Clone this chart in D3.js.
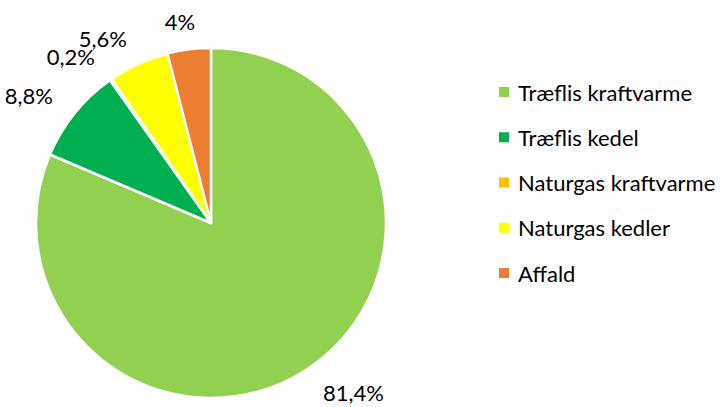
<!DOCTYPE html>
<html><head><meta charset="utf-8">
<script src="https://cdn.jsdelivr.net/npm/d3@7"></script>
<style>html,body{margin:0;padding:0;background:#fff;}svg{display:block;font-family:Lato,"Open Sans",sans-serif;}</style>
</head><body>
<svg id="chart" width="723" height="407"></svg>
<script>
const categories = ["Træflis kraftvarme", "Træflis kedel", "Naturgas kraftvarme", "Naturgas kedler", "Affald"];
const values = [81.4, 8.8, 0.2, 5.6, 4];
const labels = ["81,4%", "8,8%", "0,2%", "5,6%", "4%"];
const colors = ["#92D050", "#00B050", "#FFC000", "#FFFF00", "#ED7D31"];

const svg = d3.select("#chart");
const cx = 211, cy = 223, r = 175;
const data = categories.map((c, i) => ({name: c, value: values[i], label: labels[i], color: colors[i]}));

const pie = d3.pie().value(d => d.value).sort(null);
const arcs = pie(data);
const arc = d3.arc().innerRadius(0).outerRadius(r);
const labelRx = 203, labelRy = 195;

const g = svg.append("g").attr("transform", `translate(${cx},${cy})`);
g.selectAll("path").data(arcs).join("path")
  .attr("d", arc)
  .attr("fill", d => d.data.color)
  .attr("stroke", "#fff")
  .attr("stroke-width", 2.5)
  .attr("stroke-linejoin", "round");

const texts = g.selectAll("text").data(arcs).join("text")
  .attr("text-anchor", "middle")
  .attr("dominant-baseline", "central")
  .attr("font-size", 22)
  .attr("fill", "#000")
  .text(d => d.data.label);
texts.each(function(d) {
  const bb = this.getBBox();
  const a = (d.startAngle + d.endAngle) / 2;
  const s = Math.sin(a), c = -Math.cos(a);
  const x = labelRx * s + Math.max(-1, Math.min(1, s * 3)) * bb.width / 2;
  const y = labelRy * c + c * 8;
  d3.select(this).attr("x", x).attr("y", y);
});

const lg = svg.append("g").attr("transform", "translate(499,92)");
const item = lg.selectAll("g").data(data).join("g")
  .attr("transform", (d, i) => `translate(0,${i * 45.25})`);
item.append("rect").attr("x", 0).attr("y", -5).attr("width", 10).attr("height", 10).attr("fill", d => d.color);
item.append("text").attr("x", 19).attr("y", 0).attr("dominant-baseline", "central")
  .attr("font-size", 22).attr("fill", "#000").text(d => d.name);
</script>
</body></html>
